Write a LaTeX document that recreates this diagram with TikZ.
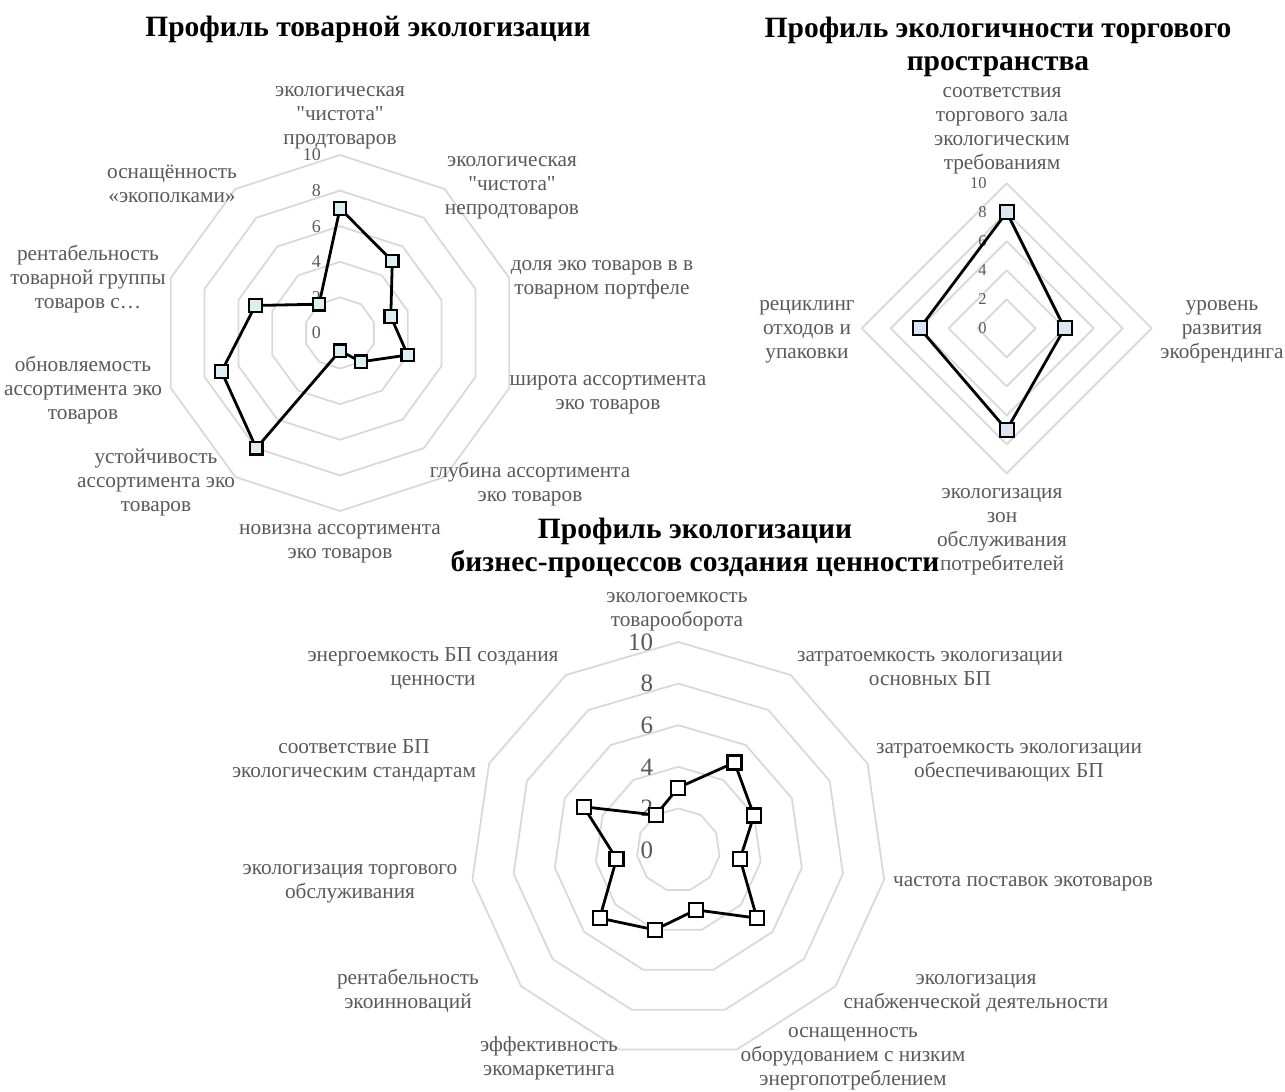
\documentclass[tikz,border=0pt]{standalone}
\usepackage{fontspec}
\setmainfont{Liberation Serif}
\newfontfamily\plainq{Liberation Serif}[Ligatures=ResetAll]
\newcommand{\sq}{{\plainq"}}
\definecolor{txt}{HTML}{595959}
\definecolor{ringc}{HTML}{D9D9D9}
\definecolor{mkA}{HTML}{DAEEF3}
\definecolor{mkB}{HTML}{DCE6F2}
\begin{document}
\begin{tikzpicture}[x=1pt,y=-1pt,
  ring/.style={draw=ringc, line width=1.8pt, line join=round},
  series/.style={draw=black, line width=2.8pt, line join=round},
  mk/.style={draw=black, line width=2.2pt, minimum size=12.5pt, inner sep=0pt, rectangle},
  mkbig/.style={mk, minimum size=14pt},
  lbl/.style={text=txt, align=center, inner sep=0pt, font=\fontsize{21.3}{24}\selectfont},
  tick/.style={text=txt, inner sep=0pt, anchor=east},
  ttl/.style={align=center, inner sep=0pt, font=\bfseries\fontsize{29.5}{33}\selectfont}]
\useasboundingbox (0,0) rectangle (1285,1092);

% ---------- titles ----------
\node[ttl] (t1) at (368,30) {\strut Профиль товарной экологизации};
\node[ttl] (t2) at (998,47) {\strut Профиль экологичности торгового\\\strut пространства};
\node[ttl] (t3) at (695,548) {\strut Профиль экологизации\\\strut бизнес-процессов создания ценности};

% ---------- chart 1 ----------
\begin{scope}[shift={(340,333)}]
  \foreach \r in {2,4,...,10}
    \draw[ring] (-90:{17.8*\r}) \foreach \k in {1,...,9}{ -- ({-90+36*\k}:{17.8*\r})} -- cycle;
  \foreach \r in {0,2,...,10}
    \node[tick, font=\fontsize{18}{18}\selectfont] (tA\r) at (-19,{-17.8*\r}) {\r};
  \foreach \v [count=\k from 0] in {7,5,3,4,2,1,8,7,5,2}
    \coordinate (A\k) at ({-90+36*\k}:{17.8*\v});
  \draw[series] (A0) \foreach \k in {1,...,9}{ -- (A\k)} -- cycle;
  \foreach \k in {0,...,9}
    \node[mk, fill=mkA] (mA\k) at (A\k) {};
\end{scope}
\node[lbl] (lA0) at (340,115.5) {\strut экологическая\\\strut \sq чистота\sq\\\strut продтоваров};
\node[lbl] (lA1) at (512,185.5) {\strut экологическая\\\strut \sq чистота\sq\\\strut непродтоваров};
\node[lbl] (lA2) at (602,278) {\strut доля эко товаров в в\\\strut товарном портфеле};
\node[lbl] (lA3) at (608,392.5) {\strut широта ассортимента\\\strut эко товаров};
\node[lbl] (lA4) at (530,484.5) {\strut глубина ассортимента\\\strut эко товаров};
\node[lbl] (lA5) at (340,542) {\strut новизна ассортимента\\\strut эко товаров};
\node[lbl] (lA6) at (156,483) {\strut устойчивость\\\strut ассортимента эко\\\strut товаров};
\node[lbl] (lA7) at (83,391) {\strut обновляемость\\\strut ассортимента эко\\\strut товаров};
\node[lbl] (lA8) at (88,280) {\strut рентабельность\\\strut товарной группы\\\strut товаров с…};
\node[lbl] (lA9) at (172,186) {\strut оснащённость\\\strut «экополками»};

% ---------- chart 2 ----------
\begin{scope}[shift={(1006.7,328.3)}]
  \foreach \r in {2,4,...,10}
    \draw[ring] (-90:{14.5*\r}) \foreach \k in {1,...,3}{ -- ({-90+90*\k}:{14.5*\r})} -- cycle;
  \foreach \r in {0,2,...,10}
    \node[tick, font=\fontsize{16.5}{16.5}\selectfont] (tB\r) at (-20,{-14.5*\r}) {\r};
  \foreach \v [count=\k from 0] in {8,4,7,6}
    \coordinate (B\k) at ({-90+90*\k}:{14.5*\v});
  \draw[series] (B0) -- (B1) -- (B2) -- (B3) -- cycle;
  \foreach \k in {0,...,3}
    \node[mkbig, fill=mkB] (mB\k) at (B\k) {};
\end{scope}
\node[lbl] (lB0) at (1002,128.5) {\strut соответствия\\\strut торгового зала\\\strut экологическим\\\strut требованиям};
\node[lbl] (lB1) at (1222,329.3) {\strut уровень\\\strut развития\\\strut экобрендинга};
\node[lbl] (lB2) at (1002,530) {\strut экологизация\\\strut зон\\\strut обслуживания\\\strut потребителей};
\node[lbl] (lB3) at (807,329.3) {\strut рециклинг\\\strut отходов и\\\strut упаковки};

% ---------- chart 3 ----------
\begin{scope}[shift={(678.3,850)}]
  \foreach \r in {2,4,...,10}
    \draw[ring] (-90:{20.8*\r}) \foreach \k in {1,...,10}{ -- ({-90+360/11*\k}:{20.8*\r})} -- cycle;
  \foreach \r in {0,2,...,10}
    \node[tick, font=\fontsize{25}{25}\selectfont] (tC\r) at (-25,{-20.8*\r}) {\r};
  \foreach \v [count=\k from 0] in {3,5,4,3,5,3,4,5,3,5,2}
    \coordinate (C\k) at ({-90+360/11*\k}:{20.8*\v});
  \draw[series] (C0) \foreach \k in {1,...,10}{ -- (C\k)} -- cycle;
  \foreach \k in {0,...,10}
    \node[mkbig, fill=white] (mC\k) at (C\k) {};
\end{scope}
\node[lbl] (lC0) at (677,610) {\strut экологоемкость\\\strut товарооборота};
\node[lbl] (lC1) at (930,669) {\strut затратоемкость экологизации\\\strut основных БП};
\node[lbl] (lC2) at (1009,760.5) {\strut затратоемкость экологизации\\\strut обеспечивающих БП};
\node[lbl] (lC3) at (1023,882) {\strut частота поставок экотоваров};
\node[lbl] (lC4) at (976,991.5) {\strut экологизация\\\strut снабженческой деятельности};
\node[lbl] (lC5) at (853,1057) {\strut оснащенность\\\strut оборудованием с низким\\\strut энергопотреблением};
\node[lbl] (lC6) at (549,1058.5) {\strut эффективность\\\strut экомаркетинга};
\node[lbl] (lC7) at (408,991.5) {\strut рентабельность\\\strut экоинноваций};
\node[lbl] (lC8) at (350,881.5) {\strut экологизация торгового\\\strut обслуживания};
\node[lbl] (lC9) at (354,760.5) {\strut соответствие БП\\\strut экологическим стандартам};
\node[lbl] (lC10) at (433,668.5) {\strut энергоемкость БП создания\\\strut ценности};
\end{tikzpicture}
\end{document}
